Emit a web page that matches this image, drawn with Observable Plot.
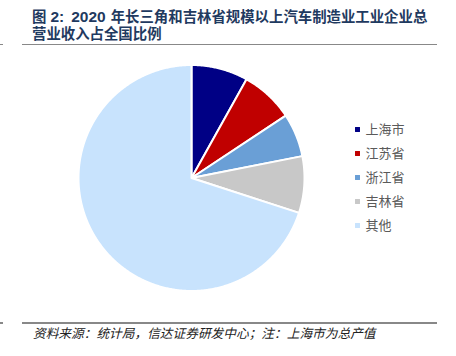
<!DOCTYPE html>
<html><head><meta charset="utf-8">
<script src="https://cdn.jsdelivr.net/npm/d3@7"></script>
<script src="https://cdn.jsdelivr.net/npm/@observablehq/plot@0.6"></script>
<style>
body{margin:0;background:#fff;}
#wrap{position:relative;width:456px;height:356px;overflow:hidden;font-family:"Liberation Sans",Arial,"Noto Sans CJK SC",sans-serif;}
#title{position:absolute;left:32px;top:8px;font-size:14.4px;line-height:17px;font-weight:bold;color:#1f3a60;white-space:nowrap;}
#title .l{font-size:15.5px;}
.rule{position:absolute;height:1.5px;background:#888;}
#pie{position:absolute;left:0;top:48px;}
#legend{position:absolute;left:350px;top:117px;}
#caption{position:absolute;left:33px;top:323.7px;font-size:12.7px;line-height:18px;font-style:italic;color:#222;white-space:nowrap;font-family:"Noto Sans CJK SC",sans-serif;}
</style></head>
<body>
<div id="wrap">
  <div id="title">图<span class="l" style="margin-left:4px">2:</span><span class="l" style="margin-left:7px">2020</span><span style="margin-left:5px">年长三角和吉林省规模以上汽车制造业工业企业总</span><br>营业收入占全国比例</div>
  <div class="rule" style="left:0;width:3px;top:43.5px"></div>
  <div class="rule" style="left:22px;width:415px;top:43.5px"></div>
  <div id="pie"></div>
  <div id="legend"></div>
  <div class="rule" style="left:0;width:3px;top:322px"></div>
  <div class="rule" style="left:22px;width:415px;top:322px"></div>
  <div id="caption">资料来源：统计局，信达证券研发中心；注：上海市为总产值</div>
</div>
<script>
// Data
const names = ["上海市", "江苏省", "浙江省", "吉林省", "其他"];
const values = [8.1, 7.6, 6.2, 8.1, 70.0];
const colors = ["#000085", "#c00000", "#6a9fd6", "#c8c8c8", "#c8e3fd"];

// Build slice polygons (clockwise from 12 o'clock) in unit-circle data space
const total = d3.sum(values);
const pts = [];
let cum = 0;
names.forEach((name, i) => {
  const a0 = cum / total * 2 * Math.PI;
  cum += values[i];
  const a1 = cum / total * 2 * Math.PI;
  const n = Math.max(2, Math.ceil((a1 - a0) / (Math.PI / 360)));
  pts.push({name, x: 0, y: 0});
  for (let k = 0; k <= n; k++) {
    const a = a0 + (a1 - a0) * k / n;
    pts.push({name, x: Math.sin(a), y: Math.cos(a)});
  }
  pts.push({name, x: 0, y: 0});
});

const pie = Plot.plot({
  width: 456, height: 270,
  marginLeft: 78, marginRight: 152, marginTop: 16.5, marginBottom: 27.5,
  x: {domain: [-1, 1], axis: null},
  y: {domain: [-1, 1], axis: null},
  color: {domain: names, range: colors},
  marks: [
    Plot.line(pts, {x: "x", y: "y", z: "name", fill: "name", stroke: "white", strokeWidth: 2, strokeLinejoin: "round"})
  ]
});
document.getElementById("pie").appendChild(pie);

const legend = Plot.plot({
  width: 100, height: 120,
  marginTop: 12, marginBottom: 12, marginLeft: 0, marginRight: 0,
  style: {fontFamily: "'Noto Sans CJK SC', sans-serif"},
  y: {type: "point", domain: names, padding: 0, axis: null},
  color: {domain: names, range: colors},
  marks: [
    Plot.dot(names, {y: d => d, fill: d => d, symbol: "square", r: 2.8, frameAnchor: "left", dx: 7}),
    Plot.text(names, {y: d => d, text: d => d, frameAnchor: "left", dx: 15, textAnchor: "start", fontSize: 13, fill: "#5a5a5a"})
  ]
});
document.getElementById("legend").appendChild(legend);
</script>
</body></html>
